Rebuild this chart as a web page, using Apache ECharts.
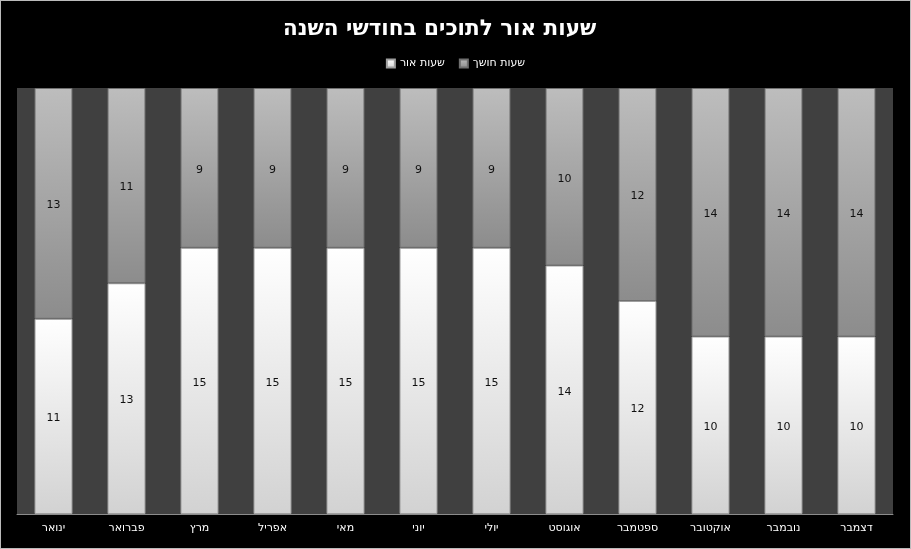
<!DOCTYPE html>
<html><head><meta charset="utf-8">
<script src="https://cdn.jsdelivr.net/npm/echarts@6/dist/echarts.min.js"></script>
<style>html,body{margin:0;padding:0;background:#000;}#c{width:911px;height:549px;box-sizing:border-box;border:1px solid #bbb;}</style>
</head><body><div id="c"></div>
<script>
const months = ['ינואר','פברואר','מרץ','אפריל','מאי','יוני','יולי','אוגוסט','ספטמבר','אוקטובר','נובמבר','דצמבר'];
const lightHours = [11,13,15,15,15,15,15,14,12,10,10,10];
const darkHours = [13,11,9,9,9,9,9,10,12,14,14,14];
const titleText = 'שעות אור לתוכים בחודשי השנה';
const lightName = 'שעות אור';
const darkName = 'שעות חושך';

const chart = echarts.init(document.getElementById('c'));
const font = 'DejaVu Sans';
function grad(top, bottom){
  return new echarts.graphic.LinearGradient(0,0,0,1,[{offset:0,color:top},{offset:1,color:bottom}]);
}
chart.setOption({
  backgroundColor:'#000',
  animation:false,
  title:{text:titleText,left:277,top:12,textStyle:{color:'#fff',fontSize:21.5,fontWeight:'bold',fontFamily:font}},
  legend:{data:[lightName,darkName],top:52,left:'center',itemWidth:8,itemHeight:8,itemGap:14,icon:'rect',
    textStyle:{color:'#fff',fontSize:11,fontFamily:font}},
  grid:{left:16,right:17,top:87,bottom:34,show:true,backgroundColor:'#404040',borderWidth:0},
  xAxis:{type:'category',data:months,axisTick:{show:false},
    axisLine:{lineStyle:{color:'#8c8c8c',width:1}},
    axisLabel:{color:'#fff',fontSize:11,fontFamily:font,margin:9}},
  yAxis:{type:'value',min:0,max:24,show:false,splitLine:{show:false}},
  series:[
    {name:lightName,type:'bar',stack:'t',barWidth:'52%',data:lightHours,
      itemStyle:{color:grad('#ffffff','#d2d2d2'),borderColor:'#a0a0a0',borderWidth:1},
      label:{show:true,position:'inside',offset:[0,2],color:'#111',fontSize:11,fontFamily:font}},
    {name:darkName,type:'bar',stack:'t',barWidth:'52%',data:darkHours,
      itemStyle:{color:grad('#bdbdbd','#8c8c8c'),borderColor:'#707070',borderWidth:1},
      label:{show:true,position:'inside',offset:[0,2],color:'#111',fontSize:11,fontFamily:font}}
  ]
});
</script></body></html>
